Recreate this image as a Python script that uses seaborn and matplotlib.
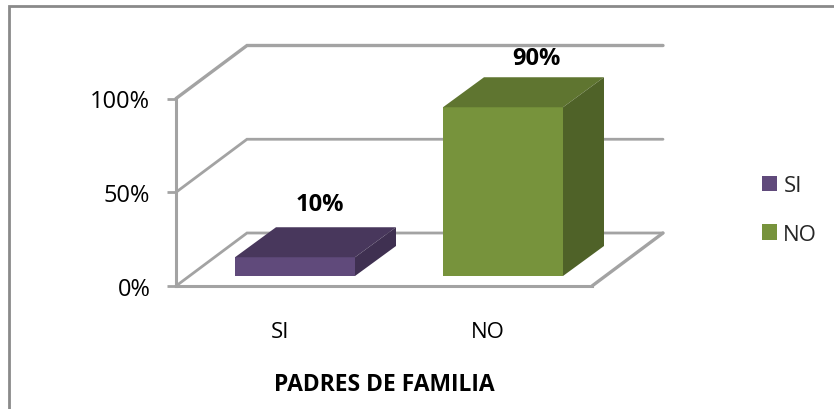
"""Two-bar pseudo-3D column chart: PADRES DE FAMILIA."""

import matplotlib

matplotlib.use("Agg")
import matplotlib.pyplot as plt
import pandas as pd
import seaborn as sns
from matplotlib.lines import Line2D
from matplotlib.patches import Patch, Polygon

categories = ["SI", "NO"]
values = [10, 90]
value_labels = ["10%", "90%"]
y_ticks = [0, 50, 100]
y_tick_labels = ["0%", "50%", "100%"]
face_colors = ["#604a7b", "#77933c"]
top_colors = ["#48375c", "#5f7530"]
side_colors = ["#3f3051", "#4f6228"]
x_title = "PADRES DE FAMILIA"

W, H = 834, 410
GRAY = "#a3a3a3"

sns.set_theme(style="white")
plt.rcParams["font.family"] = ["Open Sans", "DejaVu Sans"]

fig = plt.figure(figsize=(W / 100, H / 100), dpi=100, facecolor="white")
# front plane of the 3D box, in pixels: x 176..592, y 287 (0%) .. 99.5 (100%)
ax = fig.add_axes([176 / W, 1 - 287 / H, 416 / W, 187.5 / H])
ax.patch.set_alpha(0)

PX_X = 1 / 208  # category units per pixel
PX_Y = 100 / 187.5  # percent per pixel

df = pd.DataFrame({"group": categories, "value": values})
sns.barplot(
    data=df,
    x="group",
    y="value",
    hue="group",
    palette=face_colors,
    width=120 * PX_X,
    bottom=10 * PX_Y,
    legend=False,
    saturation=1,
    linewidth=0,
    edgecolor="none",
    ax=ax,
    zorder=5,
)
ax.set_xlim(-0.5, 1.5)
ax.set_ylim(0, 100)

# walls and floor
wall_dx, wall_dy = 71 * PX_X, 53 * PX_Y
for t in y_ticks:
    lw = 2.4 if t == 100 else 2.0
    ax.plot([-0.5, -0.5 + wall_dx, 1.5 + wall_dx], [t, t + wall_dy, t + wall_dy],
            color=GRAY, lw=lw, clip_on=False, zorder=1, solid_joinstyle="miter")
ax.plot([1.5, 1.5 + wall_dx], [0, wall_dy], color=GRAY, lw=2.4, clip_on=False, zorder=1)

# bar depth
bar_dx, bar_dy = 41 * PX_X, 30 * PX_Y
label_offsets = [(25, 23), (33, 19)]  # px from the front top edge centre + depth
for i, patch in enumerate(ax.patches):
    patch.set_x(patch.get_x() + 15 * PX_X)
    x0, x1 = patch.get_x(), patch.get_x() + patch.get_width()
    y0, y1 = patch.get_y(), patch.get_y() + patch.get_height()
    ax.add_patch(Polygon([(x0, y1), (x1, y1), (x1 + bar_dx, y1 + bar_dy), (x0 + bar_dx, y1 + bar_dy)],
                         fc=top_colors[i], ec="none", clip_on=False, zorder=5))
    ax.add_patch(Polygon([(x1, y0), (x1 + bar_dx, y0 + bar_dy), (x1 + bar_dx, y1 + bar_dy), (x1, y1)],
                         fc=side_colors[i], ec="none", clip_on=False, zorder=5))
    off_x, off_y = label_offsets[i]
    ax.text((x0 + x1) / 2 + off_x * PX_X, y1 + bar_dy + off_y * PX_Y, value_labels[i],
            ha="center", va="center", fontsize=17, fontweight="bold", color="black", zorder=6)

sns.despine(ax=ax, top=True, right=True)
for side in ("left", "bottom"):
    ax.spines[side].set_color(GRAY)
    ax.spines[side].set_linewidth(2.2)
ax.set_yticks(y_ticks, y_tick_labels)
ax.tick_params(axis="y", left=True, length=6.5, width=2, color=GRAY, labelsize=17, labelcolor="black", pad=12)
ax.tick_params(axis="x", bottom=False, labelsize=16, labelcolor="black", pad=19)
ax.set_ylabel("")
ax.set_xlabel(x_title, fontsize=16.5, fontweight="bold", color="black", labelpad=22)

# legend
handles = [Patch(fc=c, ec="none", label=l) for c, l in zip(face_colors, categories)]
fig.legend(handles=handles, loc="center left", bbox_to_anchor=(762 / W, 1 - 211 / H), frameon=False,
           fontsize=16, handlelength=0.68, handleheight=0.68, handletextpad=0.28, labelspacing=1.25,
           borderpad=0, borderaxespad=0)

# chart border: only the left and top edges are in view
fig.add_artist(Line2D([9 / W, 9 / W, 1], [0, 1 - 7 / H, 1 - 7 / H], transform=fig.transFigure,
                      color="#8a8a8a", lw=2.0, solid_joinstyle="miter"))

fig.savefig("out.png", dpi=100)
